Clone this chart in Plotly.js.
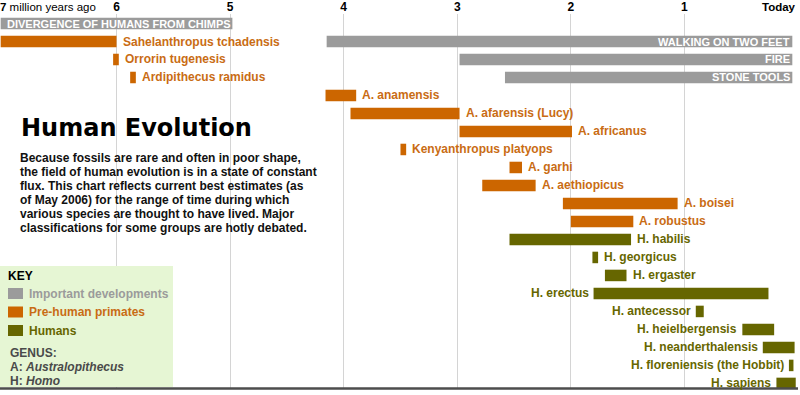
<!DOCTYPE html>
<html><head><meta charset="utf-8">
<script src="https://cdn.plot.ly/plotly-3.0.1.min.js"></script>
<style>html,body{margin:0;padding:0;background:#fff}#chart{width:800px;height:395px}</style>
</head><body><div id="chart"></div>
<script>
// ---- DATA (million years ago) ----
const devNames  = ['DIVERGENCE OF HUMANS FROM CHIMPS','WALKING ON TWO FEET','FIRE','STONE TOOLS'];
const devRow    = [0, 1, 2, 3];
const devStart  = [7.02, 4.15, 2.98, 2.58];
const devEnd    = [4.98, 0.05, 0.05, 0.05];

const preNames  = ['Sahelanthropus tchadensis','Orrorin tugenesis','Ardipithecus ramidus','A. anamensis',
                   'A. afarensis (Lucy)','A. africanus','Kenyanthropus platyops','A. garhi','A. aethiopicus',
                   'A. boisei','A. robustus'];
const preRow    = [1, 2, 3, 4, 5, 6, 7, 8, 9, 10, 11];
const preStart  = [7.02, 6.03, 5.88, 4.16, 3.94, 2.98, 3.50, 2.54, 2.78, 2.07, 2.00];
const preEnd    = [6.00, 5.98, 5.83, 3.89, 2.98, 1.99, 3.45, 2.43, 2.31, 1.06, 1.45];

const homoNames = ['H. habilis','H. georgicus','H. ergaster','H. erectus','H. antecessor','H. heielbergensis',
                   'H. neanderthalensis','H. floreniensis (the Hobbit)','H. sapiens'];
const homoRow   = [12, 13, 14, 15, 16, 17, 18, 19, 20];
const homoStart = [2.54, 1.81, 1.70, 1.80, 0.90, 0.49, 0.31, 0.08, 0.19];
const homoEnd   = [1.47, 1.76, 1.51, 0.26, 0.83, 0.21, 0.03, 0.04, 0.02];
const homoLabelLeft = [false, false, false, true, true, true, true, true, true];

const tickVals  = [6, 5, 4, 3, 2, 1, 0];
const tickText  = ['6', '5', '4', '3', '2', '1', ''];

const titleText = 'Human Evolution';
const blurbLines = [
  'Because fossils are rare and often in poor shape,',
  'the field of human evolution is in a state of constant',
  'flux. This chart reflects current best estimates (as',
  'of May 2006) for the range of time during which',
  'various species are thought to have lived. Major',
  'classifications for some groups are hotly debated.'
];
const keyItems = ['Important developments', 'Pre-human primates', 'Humans'];

// ---- STYLE ----
const GRAY = '#9b9b9b', ORANGE = '#cc6600', OLIVE = '#666600';
const ORANGE_TXT = '#c96c14', OLIVE_TXT = '#666600';
const FONT = 'Arial, "Liberation Sans", sans-serif';
const W = 800, H = 395, ML = 0, MR = 2, MT = 14, MB = 6;
const PW = W - ML - MR, PH = H - MT - MB;
const px = x => (x - ML) / PW;
const py = y => 1 - (y - MT) / PH;
const BARW = 0.64;

function barTrace(rows, s, e, color) {
  return {
    type: 'bar', orientation: 'h', y: rows, base: s,
    x: s.map((v, i) => e[i] - v), width: BARW,
    marker: {color: color, line: {width: 0}},
    hoverinfo: 'skip', showlegend: false
  };
}
const traces = [
  barTrace(devRow, devStart, devEnd, GRAY),
  barTrace(preRow, preStart, preEnd, ORANGE),
  barTrace(homoRow, homoStart, homoEnd, OLIVE)
];

const ann = [];
function label(text, x, y, left, color, size, shift) {
  ann.push({text: text, x: x, y: y, xref: 'x', yref: 'y', showarrow: false,
    xanchor: left ? 'right' : 'left', yanchor: 'middle', xshift: shift,
    borderpad: 0, borderwidth: 0,
    font: {family: FONT, size: size, color: color, weight: 'bold'}});
}
devNames.forEach((n, i) => {
  const atStart = devEnd[i] > 1;
  ann.push({text: n, x: atStart ? devStart[i] : devEnd[i], y: devRow[i], xref: 'x', yref: 'y',
    showarrow: false, xanchor: atStart ? 'left' : 'right', yanchor: 'middle',
    xshift: atStart ? 6 : -2, borderpad: 0, borderwidth: 0,
    font: {family: FONT, size: 11, color: '#ffffff', weight: 'bold'}});
});
preNames.forEach((n, i) => label(n, preEnd[i], preRow[i], false, ORANGE_TXT, 12, 6));
homoNames.forEach((n, i) => {
  if (homoLabelLeft[i]) label(n, homoStart[i], homoRow[i], true, OLIVE_TXT, 12, -5);
  else label(n, homoEnd[i], homoRow[i], false, OLIVE_TXT, 12, 6);
});

function pann(text, x, y, opts) {
  ann.push(Object.assign({text: text, x: px(x), y: py(y), xref: 'paper', yref: 'paper',
    showarrow: false, xanchor: 'left', yanchor: 'middle', borderpad: 0, borderwidth: 0,
    font: {family: FONT, size: 12, color: '#000', weight: 'bold'}}, opts || {}));
}
// top axis end labels
pann('<b>7</b> million years ago', 0, 7, {font: {family: FONT, size: 11.5, color: '#000'}});
pann('Today', 796, 7, {xanchor: 'right', font: {family: FONT, size: 11.5, color: '#000', weight: 'bold'}});
// title + blurb
pann(titleText, 21, 128, {font: {family: '"DejaVu Sans", sans-serif', size: 24, color: '#000', weight: 'bold'}});
blurbLines.forEach((l, i) => pann(l, 20, 158 + 14 * i, {font: {family: FONT, size: 12, color: '#111', weight: 'bold'}}));

// key
const shapes = [];
shapes.push({type: 'rect', xref: 'paper', yref: 'paper', x0: px(0), x1: px(173), y0: py(387), y1: py(266),
  fillcolor: '#e6f6d4', line: {width: 0}, layer: 'above'});
pann('KEY', 8, 276, {font: {family: FONT, size: 12, color: '#000', weight: 'bold'}});
const keyColors = [GRAY, ORANGE, OLIVE], keyTxt = ['#9b9b9b', ORANGE_TXT, OLIVE_TXT];
keyItems.forEach((k, i) => {
  const yc = 293.5 + 18.5 * i;
  shapes.push({type: 'rect', xref: 'paper', yref: 'paper', x0: px(8), x1: px(23), y0: py(yc + 5.5), y1: py(yc - 5.5),
    fillcolor: keyColors[i], line: {width: 0}, layer: 'above'});
  pann(k, 29, yc, {font: {family: FONT, size: 12, color: keyTxt[i], weight: 'bold'}});
});
pann('GENUS:', 10, 353, {font: {family: FONT, size: 12, color: '#4a4a4a', weight: 'bold'}});
pann('A: <i>Australopithecus</i>', 10, 367, {font: {family: FONT, size: 12, color: '#4a4a4a', weight: 'bold'}});
pann('H: <i>Homo</i>', 10, 381, {font: {family: FONT, size: 12, color: '#4a4a4a', weight: 'bold'}});

// bottom rule
shapes.push({type: 'line', xref: 'paper', yref: 'paper', x0: 0, x1: 1, y0: py(388.5), y1: py(388.5),
  line: {color: '#4d4d4d', width: 2.5}, layer: 'above'});

const layout = {
  width: W, height: H, margin: {l: ML, r: MR, t: MT, b: MB, pad: 0},
  paper_bgcolor: '#fff', plot_bgcolor: '#fff', showlegend: false, barmode: 'overlay',
  xaxis: {range: [7.026, 0], side: 'top', tickvals: tickVals, ticktext: tickText,
    showgrid: true, gridcolor: '#d4d4d4', gridwidth: 1, zeroline: false, showline: false,
    ticks: '', tickfont: {family: FONT, size: 12, color: '#000', weight: 'bold'}, fixedrange: true},
  yaxis: {range: [20.31, -0.528], showgrid: false, zeroline: false, showline: false,
    showticklabels: false, ticks: '', fixedrange: true},
  annotations: ann, shapes: shapes
};
Plotly.newPlot('chart', traces, layout, {displayModeBar: false, staticPlot: true});
</script></body></html>
